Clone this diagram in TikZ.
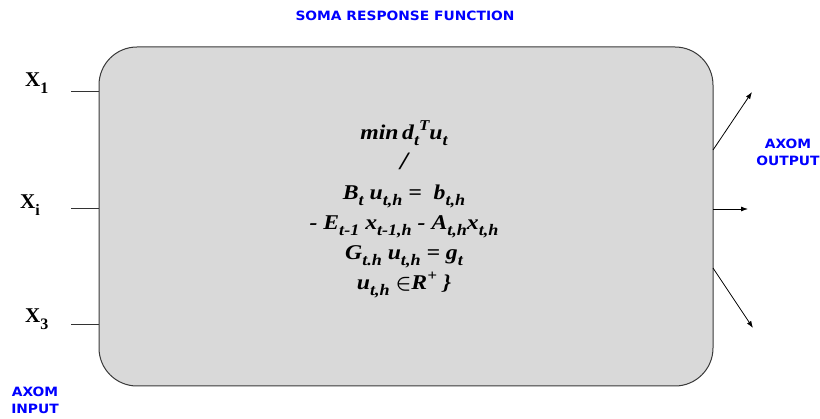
\documentclass[tikz,border=0pt]{standalone}
\usepackage{fontspec}
\setmainfont{Liberation Serif}
\newfontfamily\eqfont{Liberation Serif}[FakeStretch=1.13]
\newfontfamily\labelfont{DejaVu Sans}[BoldFont={DejaVu Sans Bold},FakeStretch=1.08]
\usetikzlibrary{arrows.meta}
\definecolor{somagray}{HTML}{D9D9D9}
\definecolor{axomblue}{HTML}{0000FF}
\definecolor{rim}{HTML}{3A3A3A}
\newcommand\subx[1]{\raisebox{-0.3em}{\fontsize{16}{16}\selectfont #1}}
\newcommand\supx[1]{\raisebox{0.45em}{\fontsize{15}{15}\selectfont #1}}

\begin{document}
\begin{tikzpicture}[x=1pt,y=-1pt,
  soma/.style={rounded corners=38pt,draw=rim,line width=1pt,fill=somagray,minimum width=614pt,minimum height=339pt,inner sep=0pt,outer sep=0pt},
  blue label/.style={text=axomblue,align=center,font=\labelfont\bfseries\fontsize{12.8}{17}\selectfont},
  xin/.style={anchor=base west,inner sep=0pt,font=\bfseries\fontsize{21}{21}\selectfont},
  wire/.style={black!80,line width=0.8pt},
  axon/.style={-{Latex[length=7pt,width=5pt]},black,line width=0.8pt}]
\useasboundingbox (0,0) rectangle (820,419);
\node[soma] (soma) at (406,216.5) {};
\node[blue label] (title) at (405,16) {SOMA RESPONSE FUNCTION};
% formula inside the soma
\node[anchor=north,align=center,inner sep=0pt,font=\eqfont\bfseries\itshape\fontsize{21}{30}\selectfont] (eq) at (404,120) {%
  min\,d\subx{t}\supx{T}u\subx{t}\\
  {\fontsize{25}{25}\selectfont/}\\
  B\subx{t} u\subx{t,h} =\ \ b\subx{t,h}\\
  - E\subx{t-1} x\subx{t-1,h} - A\subx{t,h}x\subx{t,h}\\
  G\subx{t.h} u\subx{t,h} = g\subx{t}\\
  u\subx{t,h} {\boldmath$\in$}R\supx{+} \}};
% inputs
\node[xin] (x1) at (25,87) {X\subx{1}};
\node[xin] (xi) at (20,209) {X\subx{i}};
\node[xin] (x3) at (25,323) {X\subx{3}};
\coordinate (in1) at (71,91);
\coordinate (ini) at (71,208);
\coordinate (in3) at (71,324);
\draw[wire] (in1) -- (in1 -| soma.west);
\draw[wire] (ini) -- (ini -| soma.west);
\draw[wire] (in3) -- (in3 -| soma.west);
\node[blue label] (axin) at (35,400) {AXOM\\INPUT};
% outputs
\coordinate (o1) at (713,150);
\coordinate (o2) at (713,209);
\coordinate (o3) at (713,268);
\coordinate (t1) at (752,92);
\coordinate (t2) at (748,209);
\coordinate (t3) at (753,328);
\draw[axon] (o1) -- (t1);
\draw[axon] (o2) -- (t2);
\draw[axon] (o3) -- (t3);
\node[blue label] (axout) at (788,152) {AXOM\\OUTPUT};
\end{tikzpicture}
\end{document}
